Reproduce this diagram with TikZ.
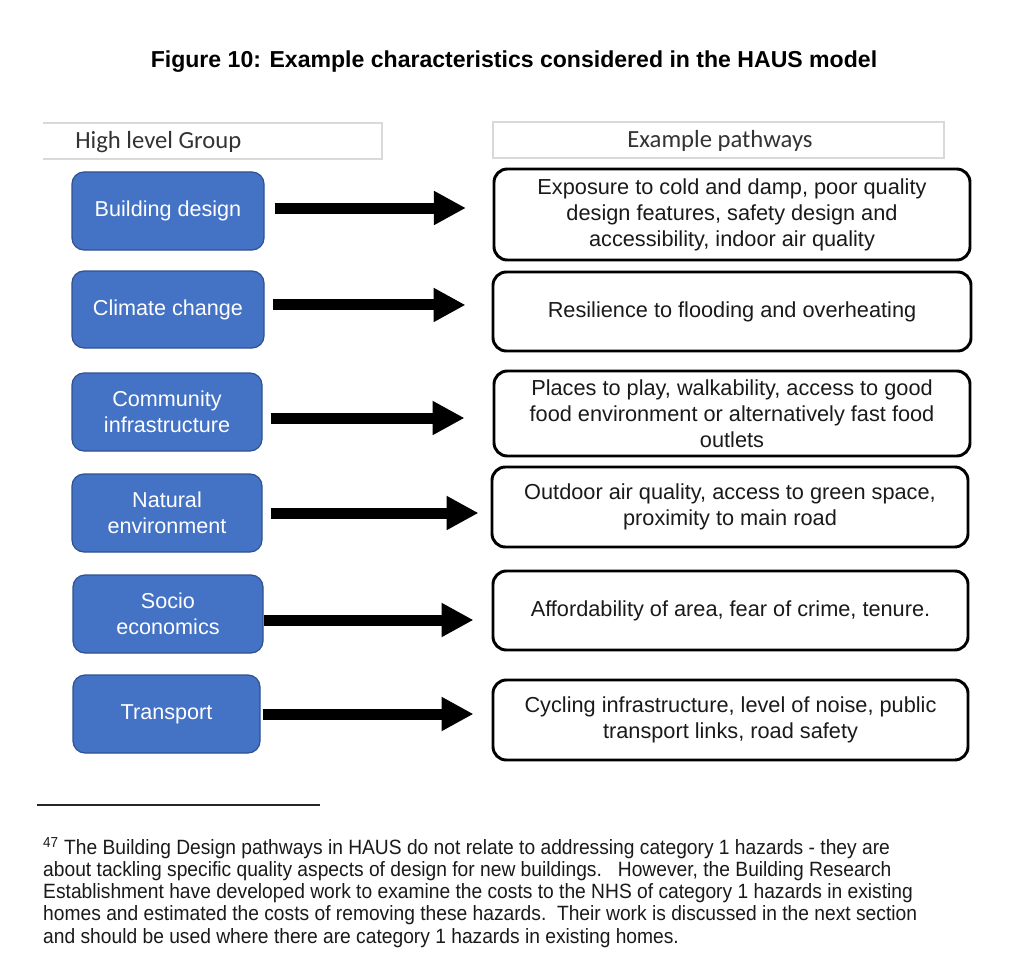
\documentclass[tikz,border=0pt]{standalone}
\usepackage{fontspec}
\setmainfont{Liberation Sans}
\newfontfamily\hdrfont{Carlito}
\usetikzlibrary{arrows.meta,calc}
\definecolor{bluefill}{HTML}{4472C4}
\definecolor{blueedge}{HTML}{2F528F}
\definecolor{hdrline}{HTML}{D9D9D9}
\definecolor{txt}{HTML}{1A1A1A}
\begin{document}
\begin{tikzpicture}[x=0.75pt,y=-0.75pt,
  groupbox/.style={draw=blueedge,fill=bluefill,line width=0.9pt,rounded corners=9pt,
    text=white,align=center,font=\fontsize{16.2}{19.5}\selectfont,inner sep=0pt},
  pathbox/.style={draw=black,fill=white,line width=2.2pt,rounded corners=10pt,
    text=txt,align=center,font=\fontsize{16.3}{19.5}\selectfont,inner sep=0pt},
  bigarrow/.style={line width=8.25pt,-{Triangle[length=24pt,width=24pt]}},
  hdrtext/.style={text=black!80,font=\hdrfont\fontsize{18.5}{21}\selectfont,inner sep=0pt}
]
\useasboundingbox (0,0) rectangle (1024,977);
\fill[white] (0,0) rectangle (1024,977);

% title
\node[font=\bfseries\fontsize{17.3}{20}\selectfont,text=black] (title) at (514,62)
  {Figure 10: Example characteristics considered in the HAUS model};

% headers
\draw[hdrline,line width=0.9pt] (43,123) -- (382,123) -- (382,159) -- (43,159);
\node[hdrtext,anchor=west] (hl) at (75,142) {High level Group};
\draw[hdrline,line width=0.9pt] (493,122) rectangle (944,158);
\node[hdrtext] (hr) at (720,141) {Example pathways};

% group boxes
\node[groupbox,minimum width=144pt,minimum height=58.5pt] (b1) at (168,211) {Building design};
\node[groupbox,minimum width=144pt,minimum height=57.75pt] (b2) at (168,309.5) {Climate change};
\node[groupbox,minimum width=142.5pt,minimum height=58.5pt] (b3) at (167,412) {Community\\infrastructure};
\node[groupbox,minimum width=142.5pt,minimum height=58.5pt] (b4) at (167,513) {Natural\\environment};
\node[groupbox,minimum width=142.5pt,minimum height=58.5pt] (b5) at (168,614) {Socio\\economics};
\node[groupbox,minimum width=140.25pt,minimum height=58.5pt] (b6) at (166.5,714) {Transport};

% pathway boxes
\node[pathbox,minimum width=357pt,minimum height=68.25pt] (p1) at (732,214.5)
  {Exposure to cold and damp, poor quality\\design features, safety design and\\accessibility, indoor air quality};
\node[pathbox,minimum width=358.5pt,minimum height=59.25pt] (p2) at (732,311.5)
  {Resilience to flooding and overheating};
\node[pathbox,minimum width=357pt,minimum height=63.75pt] (p3) at (732,413.5)
  {Places to play, walkability, access to good\\food environment or alternatively fast food\\outlets};
\node[pathbox,minimum width=357pt,minimum height=60pt] (p4) at (730,507)
  {Outdoor air quality, access to green space,\\proximity to main road};
\node[pathbox,minimum width=356.25pt,minimum height=59.25pt] (p5) at (730.5,610.5)
  {Affordability of area, fear of crime, tenure.};
\node[pathbox,minimum width=356.25pt,minimum height=60pt] (p6) at (730.5,720)
  {Cycling infrastructure, level of noise, public\\transport links, road safety};

% arrow starts
\path ([yshift=2.25pt]b1.east) coordinate (s1);
\path ([yshift=3.4pt]b2.east) coordinate (s2);
\path ([yshift=-4.5pt]b3.east) coordinate (s3);
\path (b4.east) coordinate (s4);
\path ([yshift=-4.5pt]b5.east) coordinate (s5);
\path (b6.east) coordinate (s6);

\draw[bigarrow,shorten <=7.5pt,shorten >=20pt] (s1) -- (s1 -| p1.west);
\draw[bigarrow,shorten <=6pt,shorten >=19.5pt] (s2) -- (s2 -| p2.west);
\draw[bigarrow,shorten <=6pt,shorten >=21pt] (s3) -- (s3 -| p3.west);
\draw[bigarrow,shorten <=6pt,shorten >=9pt] (s4) -- (s4 -| p4.west);
\draw[bigarrow,shorten <=0pt,shorten >=13.5pt] (s5) -- (s5 -| p5.west);
\draw[bigarrow,shorten <=1.5pt,shorten >=13.5pt] (s6) -- (s6 -| p6.west);

% footnote
\draw[line width=1.1pt,black!85] (37,805) coordinate (r1) -- (320,805) coordinate (r2);
\node[anchor=north west,align=left,inner sep=0pt,xscale=0.93,transform shape,
  font=\fontsize{15.5}{16.7}\selectfont,text=txt] (fn) at (43,837)
  {\textsuperscript{47} The Building Design pathways in HAUS do not relate to addressing category 1 hazards - they are\\
   about tackling specific quality aspects of design for new buildings.\ \ \ However, the Building Research\\
   Establishment have developed work to examine the costs to the NHS of category 1 hazards in existing\\
   homes and estimated the costs of removing these hazards.\ \ Their work is discussed in the next section\\
   and should be used where there are category 1 hazards in existing homes.};
\end{tikzpicture}
\end{document}
